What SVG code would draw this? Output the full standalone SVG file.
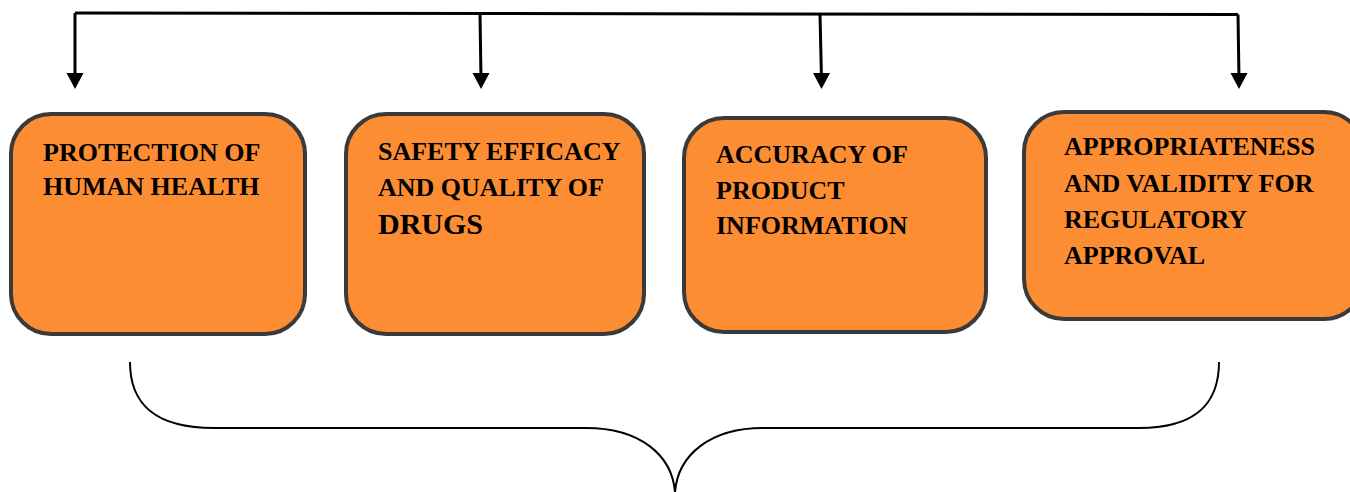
<svg xmlns="http://www.w3.org/2000/svg" width="1350" height="492" viewBox="0 0 1350 492">
  <style>
    .box { fill: #FD8D33; stroke: #3A3A3A; stroke-width: 4; }
    .label { font-family: "Liberation Serif", "Times New Roman", serif; font-weight: bold; font-size: 26px; fill: #000; }
    .big { font-family: "Liberation Serif", "Times New Roman", serif; font-weight: bold; font-size: 30px; fill: #000; }
    .wire { fill: none; stroke: #000; stroke-width: 3; }
    .head { fill: #000; }
    .brace { fill: none; stroke: #000; stroke-width: 2; }
  </style>
  <rect width="1350" height="492" fill="#fff"/>

  <!-- distribution connectors from the top bus -->
  <g id="connectors">
    <polyline class="wire" points="75,13 1238,14.5"/>
    <line class="wire" x1="75" y1="13" x2="75" y2="80"/>
    <line class="wire" x1="480" y1="13" x2="481" y2="80"/>
    <line class="wire" x1="820" y1="14" x2="821.5" y2="80"/>
    <line class="wire" x1="1238" y1="14.5" x2="1239" y2="80"/>
    <path class="head" d="M66.5,73 L83.5,73 L75,89 Z"/>
    <path class="head" d="M472.5,73 L489.5,73 L481,89 Z"/>
    <path class="head" d="M813,73 L830,73 L821.5,89 Z"/>
    <path class="head" d="M1230.5,73 L1247.5,73 L1239,89 Z"/>
    <!-- curly brace gathering the four boxes -->
    <path class="brace" d="M130,362 C130,400 150,428 214,428 L586,428 C640,428 672,455 675,492"/>
    <path class="brace" d="M675,492 C678,455 710,428 763,428 L1139,428 C1200,428 1219,400 1219,362"/>
  </g>

  <g id="node-protection">
    <rect class="box" x="11" y="114" width="294" height="220" rx="40" ry="40"/>
    <text class="label" x="43" y="161">PROTECTION OF</text>
    <text class="label" x="43" y="195">HUMAN HEALTH</text>
  </g>

  <g id="node-safety">
    <rect class="box" x="346" y="114" width="298" height="220" rx="40" ry="40"/>
    <text class="label" x="378" y="160">SAFETY EFFICACY</text>
    <text class="label" x="378" y="196">AND QUALITY OF</text>
    <text class="big" x="378" y="234">DRUGS</text>
  </g>

  <g id="node-accuracy">
    <rect class="box" x="684" y="118" width="302" height="214" rx="40" ry="40"/>
    <text class="label" x="716" y="163">ACCURACY OF</text>
    <text class="label" x="716" y="199">PRODUCT</text>
    <text class="label" x="716" y="234">INFORMATION</text>
  </g>

  <g id="node-approval">
    <rect class="box" x="1024" y="112" width="340" height="207" rx="40" ry="40"/>
    <text class="label" x="1064" y="155">APPROPRIATENESS</text>
    <text class="label" x="1064" y="192">AND VALIDITY FOR</text>
    <text class="label" x="1064" y="228">REGULATORY</text>
    <text class="label" x="1064" y="264">APPROVAL</text>
  </g>
</svg>
